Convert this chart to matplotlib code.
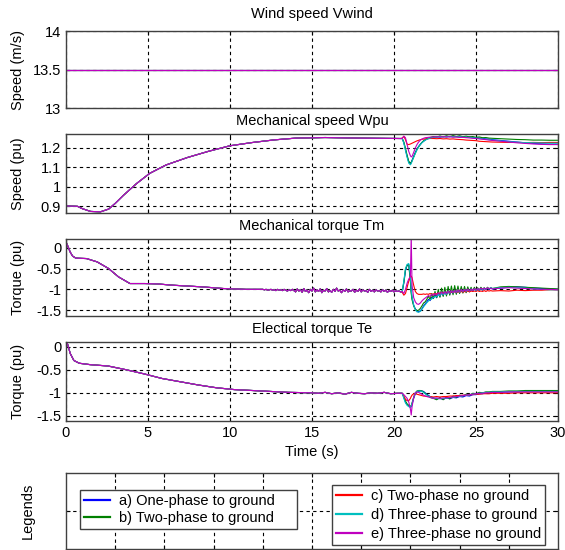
import matplotlib
matplotlib.use("Agg")
import matplotlib.pyplot as plt
from matplotlib.lines import Line2D
import numpy as np

plt.rcParams['font.family'] = ['Liberation Sans', 'DejaVu Sans']
plt.rcParams['font.size'] = 10

# ---------------- data ----------------
series_names = ["a) One-phase to ground", "b) Two-phase to ground",
                "c) Two-phase no ground", "d) Three-phase to ground",
                "e) Three-phase no ground"]
series_colors = ["#0000ff", "#008000", "#ff0000", "#00bfbf", "#bf00bf"]

# wind speed (constant)
t_wind = [0, 30]
wind = [13.5, 13.5]

# ---- common pre-fault part ----
t_spd_pre = [0, 0.7, 1.0, 1.5, 2.1, 2.6, 3.0, 3.5, 4.3, 5.1, 6.1, 7.4, 8.7, 10.0,
             11.4, 12.7, 14.0, 15.8, 17.9, 20.4]
spd_pre = [0.902, 0.900, 0.888, 0.874, 0.872, 0.886, 0.915, 0.956, 1.016, 1.068,
           1.111, 1.149, 1.181, 1.209, 1.226, 1.239, 1.248, 1.251, 1.248, 1.246]

# mechanical torque: smooth start, then sampled every 0.1 s from 12.0 to 20.4 s
t_tm_pre = [0, 0.1, 0.25, 0.4, 0.6, 1.25, 1.9, 2.6, 3.2, 3.9, 4.8, 5.6, 6.5, 7.4,
            8.3, 9.6, 11.0] + list(np.round(np.arange(12.0, 20.45, 0.1), 2))
tm_pre = [0.14, 0.05, -0.10, -0.20, -0.25, -0.26, -0.34, -0.50, -0.70, -0.86,
          -0.86, -0.87, -0.90, -0.92, -0.94, -0.98, -1.00,
          # 12.0 - 13.9
          -1.0, -1.01, -1.0, -1.02, -1.01, -1.0, -1.02, -1.01, -1.03, -1.0,
          -1.02, -1.01, -1.03, -1.0, -1.02, -1.04, -1.01, -1.03, -1.0, -1.03,
          # 14.0 - 20.4
          -1.06, -0.99, -1.04, -1.01, -1.07, -0.98, -1.05, -1.02, -1.08, -1.0,
          -1.04, -0.97, -1.06, -1.01, -1.05, -0.99, -1.08, -1.02, -1.04, -0.98,
          -1.06, -1.03, -1.07, -1.0, -1.05, -0.97, -1.04, -1.02, -1.08, -1.01,
          -1.05, -0.99, -1.06, -1.03, -1.04, -1.0, -1.07, -1.02, -1.05, -0.99,
          -1.06, -1.01, -1.04, -1.03, -1.07, -1.0, -1.05, -1.02, -1.06, -1.01,
          -1.04, -1.03, -1.06, -1.01, -1.05, -1.02, -1.07, -1.03, -1.05, -1.02,
          -1.06, -1.03, -1.05, -1.04, -1.06]

t_te_pre = [0, 0.1, 0.26, 0.48, 0.81, 1.47, 2.57, 3.66, 4.76, 5.86, 6.96, 8.06,
            9.16, 10.26, 11.36, 12.46, 13.56, 15.0,
            15.4, 15.8, 16.2, 16.6, 17.0, 17.4, 17.8, 18.2, 18.6, 19.0, 19.4, 19.8, 20.2]
te_pre = [0.13, 0.05, -0.15, -0.30, -0.36, -0.39, -0.42, -0.50, -0.59, -0.69,
          -0.76, -0.83, -0.89, -0.93, -0.95, -0.97, -0.99, -1.00,
          -1.01, -0.99, -1.02, -1.00, -1.03, -0.99, -1.01, -1.02, -1.00, -1.01,
          -0.99, -1.02, -1.01]

# ---- post-fault parts (one list per fault case) ----
t_post = [20.5, 20.6, 20.7, 20.8, 20.9, 21.0, 21.05, 21.1, 21.2, 21.3, 21.4, 21.5,
          21.6, 21.7, 21.8, 21.9, 22.0, 22.2, 22.4, 22.6, 22.8, 23.0, 23.2, 23.4,
          23.6, 23.8, 24.0, 24.2, 24.4, 24.6, 24.8, 25.0, 25.2, 25.4, 25.6, 25.8,
          26.0, 26.5, 27.0, 27.5, 28.0, 28.5, 29.0, 29.5, 30.0]

spd_a = [1.246, 1.225, 1.19, 1.155, 1.125, 1.118, 1.125, 1.135, 1.155, 1.175, 1.192,
         1.205, 1.216, 1.225, 1.232, 1.238, 1.243, 1.249, 1.252, 1.255, 1.253, 1.256,
         1.254, 1.257, 1.255, 1.256, 1.253, 1.255, 1.252, 1.254, 1.251, 1.250, 1.248,
         1.247, 1.244, 1.243, 1.240, 1.236, 1.232, 1.228, 1.224, 1.221, 1.219, 1.217, 1.217]
spd_b = [1.246, 1.228, 1.195, 1.16, 1.13, 1.12, 1.124, 1.132, 1.152, 1.172, 1.19,
         1.204, 1.215, 1.226, 1.234, 1.24, 1.245, 1.251, 1.256, 1.253, 1.259, 1.254,
         1.26, 1.255, 1.261, 1.256, 1.26, 1.255, 1.258, 1.254, 1.256, 1.252, 1.254,
         1.25, 1.251, 1.248, 1.247, 1.245, 1.243, 1.241, 1.24, 1.238, 1.238, 1.237, 1.237]
spd_c = [1.248, 1.257, 1.24, 1.217, 1.215, 1.218, 1.22, 1.222, 1.226, 1.23, 1.234,
         1.237, 1.24, 1.242, 1.243, 1.244, 1.245, 1.246, 1.246, 1.245, 1.246, 1.244,
         1.245, 1.243, 1.244, 1.242, 1.241, 1.24, 1.238, 1.237, 1.236, 1.235, 1.232,
         1.231, 1.23, 1.229, 1.228, 1.227, 1.226, 1.226, 1.225, 1.226, 1.225, 1.226, 1.226]
spd_d = [1.246, 1.222, 1.185, 1.15, 1.12, 1.112, 1.118, 1.13, 1.15, 1.17, 1.188,
         1.202, 1.214, 1.224, 1.231, 1.237, 1.242, 1.248, 1.252, 1.254, 1.255, 1.255,
         1.256, 1.255, 1.256, 1.254, 1.255, 1.253, 1.253, 1.251, 1.25, 1.248, 1.246,
         1.244, 1.242, 1.24, 1.238, 1.234, 1.23, 1.227, 1.225, 1.224, 1.223, 1.222, 1.222]
spd_e = [1.246, 1.258, 1.25, 1.215, 1.18, 1.158, 1.152, 1.155, 1.175, 1.198, 1.215,
         1.228, 1.237, 1.243, 1.247, 1.25, 1.251, 1.253, 1.254, 1.255, 1.254, 1.255,
         1.254, 1.255, 1.253, 1.254, 1.252, 1.252, 1.25, 1.249, 1.247, 1.246, 1.244,
         1.242, 1.24, 1.238, 1.236, 1.232, 1.228, 1.224, 1.221, 1.218, 1.216, 1.215, 1.215]

# mechanical torque after fault: fine steps to 22 s, 0.1 s to 26 s, 0.5 s to 30 s
t_tm_post = ([20.5, 20.6, 20.7, 20.8, 20.9, 21.0, 21.05, 21.1, 21.2, 21.3, 21.4,
              21.5, 21.6, 21.7, 21.8, 21.9, 22.0]
             + list(np.round(np.arange(22.1, 26.05, 0.1), 2))
             + [26.5, 27.0, 27.5, 28.0, 28.5, 29.0, 29.5, 30.0])

tm_a = [-1.05, -0.85, -0.55, -0.42, -0.40, -0.75, -1.05, -1.2, -1.38, -1.47, -1.52,
        -1.54, -1.52, -1.47, -1.4, -1.35, -1.3,
        -1.24, -1.27, -1.19, -1.22, -1.14, -1.2, -1.11, -1.17, -1.08, -1.15,
        -1.06, -1.13, -1.04, -1.12, -1.05, -1.1, -1.02, -1.09, -1.03, -1.08,
        -0.99, -1.07, -1.01, -1.06, -0.98, -1.05, -1.0, -1.04, -0.98, -1.03,
        -0.99, -1.03, -0.97, -1.02, -0.98, -1.01, -0.97, -1.0, -0.97, -0.99,
        -0.97, -0.95, -0.94, -0.95, -0.97, -0.98, -0.99, -1.0]
tm_b = [-1.05, -0.83, -0.52, -0.42, -0.42, -0.8, -1.1, -1.25, -1.4, -1.48, -1.51,
        -1.5, -1.46, -1.4, -1.33, -1.3, -1.24,
        -1.16, -1.25, -1.1, -1.22, -1.05, -1.2, -1.0, -1.19, -0.97, -1.17,
        -0.95, -1.16, -0.93, -1.14, -0.92, -1.13, -0.91, -1.12, -0.92, -1.1,
        -0.93, -1.09, -0.93, -1.08, -0.94, -1.06, -0.95, -1.05, -0.95, -1.03,
        -0.96, -1.02, -0.95, -1.01, -0.96, -1.0, -0.95, -0.99, -0.96, -0.98,
        -0.94, -0.93, -0.94, -0.95, -0.96, -0.97, -0.98, -0.99]
tm_c = [-1.07, -1.14, -1.1, -0.95, -0.8, -0.7, -0.68, -0.72, -0.9, -1.05, -1.1,
        -1.12, -1.12, -1.12, -1.11, -1.12, -1.11,
        -1.12, -1.1, -1.12, -1.11, -1.1, -1.11, -1.09, -1.1, -1.08, -1.1,
        -1.08, -1.09, -1.07, -1.09, -1.07, -1.08, -1.06, -1.08, -1.06, -1.07,
        -1.05, -1.07, -1.05, -1.06, -1.04, -1.06, -1.04, -1.05, -1.04, -1.05,
        -1.03, -1.05, -1.04, -1.05, -1.03, -1.05, -1.03, -1.04, -1.03, -1.04,
        -1.03, -1.04, -1.02, -1.03, -1.02, -1.02, -1.01, -1.01]
tm_d = [-1.05, -0.8, -0.5, -0.4, -0.38, -0.7, -1.0, -1.18, -1.38, -1.49, -1.54,
        -1.55, -1.53, -1.48, -1.42, -1.37, -1.32,
        -1.28, -1.25, -1.23, -1.2, -1.17, -1.18, -1.12, -1.15, -1.09, -1.13,
        -1.07, -1.12, -1.05, -1.1, -1.04, -1.09, -1.03, -1.08, -1.02, -1.07,
        -1.01, -1.06, -1.0, -1.05, -1.0, -1.04, -0.99, -1.03, -0.99, -1.03,
        -0.98, -1.02, -0.98, -1.01, -0.97, -1.0, -0.97, -0.99, -0.96, -0.98,
        -0.96, -0.95, -0.96, -0.97, -0.99, -1.0, -1.01, -1.01]
tm_e = [-1.05, -1.1, -1.0, -0.85, -0.75, -0.7, 0.3, -0.9, -1.2, -1.3, -1.35,
        -1.36, -1.33, -1.28, -1.24, -1.21, -1.18,
        -1.15, -1.17, -1.12, -1.15, -1.1, -1.14, -1.08, -1.12, -1.06, -1.11,
        -1.05, -1.1, -1.04, -1.09, -1.03, -1.08, -1.02, -1.07, -1.01, -1.06,
        -1.0, -1.05, -1.0, -1.04, -0.99, -1.04, -0.99, -1.03, -0.98, -1.02,
        -0.98, -1.01, -0.97, -1.0, -0.97, -1.0, -0.96, -0.99, -0.97, -0.99,
        -0.97, -0.96, -0.97, -0.98, -0.99, -1.0, -1.0, -1.01]

te_a = [-1.01, -1.1, -1.2, -1.26, -1.29, -1.31, -1.3, -1.25, -1.12, -1.02, -0.98,
        -0.97, -0.96, -0.96, -0.97, -1.0, -1.03, -1.08, -1.11, -1.13, -1.12, -1.14,
        -1.11, -1.13, -1.1, -1.11, -1.08, -1.09, -1.06, -1.07, -1.04, -1.04, -1.02,
        -1.02, -1.0, -1.0, -0.99, -0.99, -0.98, -0.98, -0.97, -0.97, -0.97, -0.97, -0.97]
te_b = [-1.01, -1.08, -1.18, -1.24, -1.27, -1.29, -1.28, -1.22, -1.1, -1.0, -0.96,
        -0.95, -0.95, -0.96, -0.98, -1.01, -1.04, -1.1, -1.12, -1.15, -1.1, -1.15,
        -1.09, -1.13, -1.07, -1.1, -1.05, -1.07, -1.03, -1.05, -1.01, -1.02, -0.99,
        -1.0, -0.98, -0.98, -0.97, -0.97, -0.96, -0.96, -0.95, -0.95, -0.95, -0.95, -0.95]
te_c = [-1.01, -1.08, -1.14, -1.17, -1.17, -1.12, -1.08, -1.05, -1.02, -1.02, -1.03,
        -1.04, -1.05, -1.06, -1.07, -1.07, -1.08, -1.08, -1.09, -1.08, -1.09, -1.08,
        -1.08, -1.07, -1.07, -1.06, -1.06, -1.05, -1.05, -1.04, -1.04, -1.03, -1.03,
        -1.02, -1.02, -1.02, -1.01, -1.01, -1.01, -1.0, -1.0, -1.0, -1.0, -1.0, -1.0]
te_d = [-1.01, -1.12, -1.22, -1.27, -1.3, -1.31, -1.29, -1.23, -1.1, -1.01, -0.97,
        -0.96, -0.96, -0.97, -0.99, -1.02, -1.05, -1.09, -1.12, -1.12, -1.13, -1.12,
        -1.12, -1.1, -1.1, -1.08, -1.08, -1.06, -1.05, -1.04, -1.03, -1.02, -1.01,
        -1.0, -0.99, -0.99, -0.98, -0.98, -0.97, -0.97, -0.97, -0.97, -0.97, -0.97, -0.97]
te_e = [-1.01, -1.04, -1.08, -1.12, -1.2, -1.35, -1.48, -1.3, -1.1, -1.0, -0.98,
        -0.99, -1.01, -1.03, -1.05, -1.07, -1.08, -1.1, -1.12, -1.11, -1.12, -1.11,
        -1.11, -1.1, -1.09, -1.08, -1.07, -1.06, -1.05, -1.04, -1.03, -1.02, -1.01,
        -1.01, -1.0, -1.0, -0.99, -0.99, -0.98, -0.98, -0.98, -0.98, -0.98, -0.98, -0.98]

spd_post = [spd_a, spd_b, spd_c, spd_d, spd_e]
tm_post = [tm_a, tm_b, tm_c, tm_d, tm_e]
te_post = [te_a, te_b, te_c, te_d, te_e]

# ---------------- figure ----------------
W, H = 565, 550
fig = plt.figure(figsize=(W / 100, H / 100), dpi=100)
LW = 0.8
FS = 10.5


def box(x0, y0, x1, y1):
    return [x0 / W, 1 - y1 / H, (x1 - x0) / W, (y1 - y0) / H]


def style(ax, ylabel):
    ax.set_xlim(0, 30)
    ax.set_xticks([0, 5, 10, 15, 20, 25, 30])
    ax.grid(True, color='black', linestyle=(0, (3, 3)), linewidth=0.8)
    ax.tick_params(direction='in', top=True, right=True, length=3, labelsize=FS)
    for s in ax.spines.values():
        s.set_color('#404040')
        s.set_linewidth(1.0)
    ax.set_ylabel(ylabel, fontsize=FS)
    ax.yaxis.set_label_coords(-0.083, 0.5)


ax1 = fig.add_axes(box(66, 31, 558, 108))
ax2 = fig.add_axes(box(66, 134, 558, 213))
ax3 = fig.add_axes(box(66, 239, 558, 316))
ax4 = fig.add_axes(box(66, 342, 558, 421))
ax5 = fig.add_axes(box(66, 473, 558, 549))

for c in series_colors:
    ax1.plot(t_wind, wind, color=c, linewidth=LW)
for vals, c in zip(spd_post, series_colors):
    ax2.plot(t_spd_pre + t_post, spd_pre + vals, color=c, linewidth=LW)
for vals, c in zip(tm_post, series_colors):
    ax3.plot(t_tm_pre + t_tm_post, tm_pre + vals, color=c, linewidth=LW)
for vals, c in zip(te_post, series_colors):
    ax4.plot(t_te_pre + t_post, te_pre + vals, color=c, linewidth=LW)

style(ax1, "Speed (m/s)")
ax1.set_ylim(13, 14)
ax1.set_yticks([13, 13.5, 14])
ax1.set_yticklabels(["13", "13.5", "14"])
ax1.set_xticklabels([])
ax1.set_title("Wind speed Vwind", fontsize=FS, pad=9.5)

style(ax2, "Speed (pu)")
ax2.set_ylim(0.866, 1.269)
ax2.set_yticks([0.9, 1.0, 1.1, 1.2])
ax2.set_yticklabels(["0.9", "1", "1.1", "1.2"])
ax2.set_xticklabels([])
ax2.set_title("Mechanical speed Wpu", fontsize=FS, pad=6.5)

style(ax3, "Torque (pu)")
ax3.set_ylim(-1.64, 0.21)
ax3.set_yticks([-1.5, -1, -0.5, 0])
ax3.set_yticklabels(["-1.5", "-1", "-0.5", "0"])
ax3.set_xticklabels([])
ax3.set_title("Mechanical torque Tm", fontsize=FS, pad=6.5)

style(ax4, "Torque (pu)")
ax4.set_ylim(-1.61, 0.1)
ax4.set_yticks([-1.5, -1, -0.5, 0])
ax4.set_yticklabels(["-1.5", "-1", "-0.5", "0"])
ax4.set_xticklabels(["0", "5", "10", "15", "20", "25", "30"])
ax4.set_title("Electical torque Te", fontsize=FS, pad=6.5)
ax4.set_xlabel("Time (s)", fontsize=FS, labelpad=4)

# legend panel
ax5.set_xlim(0, 1)
ax5.set_ylim(0, 1)
ax5.set_xticks([0.1 * i for i in range(1, 10)])
ax5.set_yticks([0.5])
ax5.set_xticklabels([])
ax5.set_yticklabels([])
ax5.grid(True, color='black', linestyle=(0, (3, 3)), linewidth=0.8)
ax5.tick_params(direction='in', top=True, right=True, length=3)
for s in ax5.spines.values():
    s.set_color('#404040')
    s.set_linewidth(1.0)
ax5.set_ylabel("Legends", fontsize=FS)
ax5.yaxis.set_label_coords(-0.063, 0.5)

handles = [Line2D([], [], color=c, linewidth=1.6) for c in series_colors]
common = dict(fontsize=FS, fancybox=False, framealpha=1, edgecolor='#404040',
              handlelength=1.75, handletextpad=0.65, borderpad=0.3,
              borderaxespad=0, mode='expand',
              loc='center left', bbox_transform=fig.transFigure)
b1 = box(80, 487, 297, 532)
leg1 = ax5.legend(handles[:2], series_names[:2], bbox_to_anchor=b1,
                  labelspacing=0.2, **common)
leg1.get_frame().set_linewidth(1.0)
ax5.add_artist(leg1)
b2 = box(332, 481, 545, 549)
leg2 = ax5.legend(handles[2:], series_names[2:], bbox_to_anchor=b2,
                  labelspacing=0.33, **common)
leg2.get_frame().set_linewidth(1.0)

fig.savefig("out.png", dpi=100, facecolor='white')
